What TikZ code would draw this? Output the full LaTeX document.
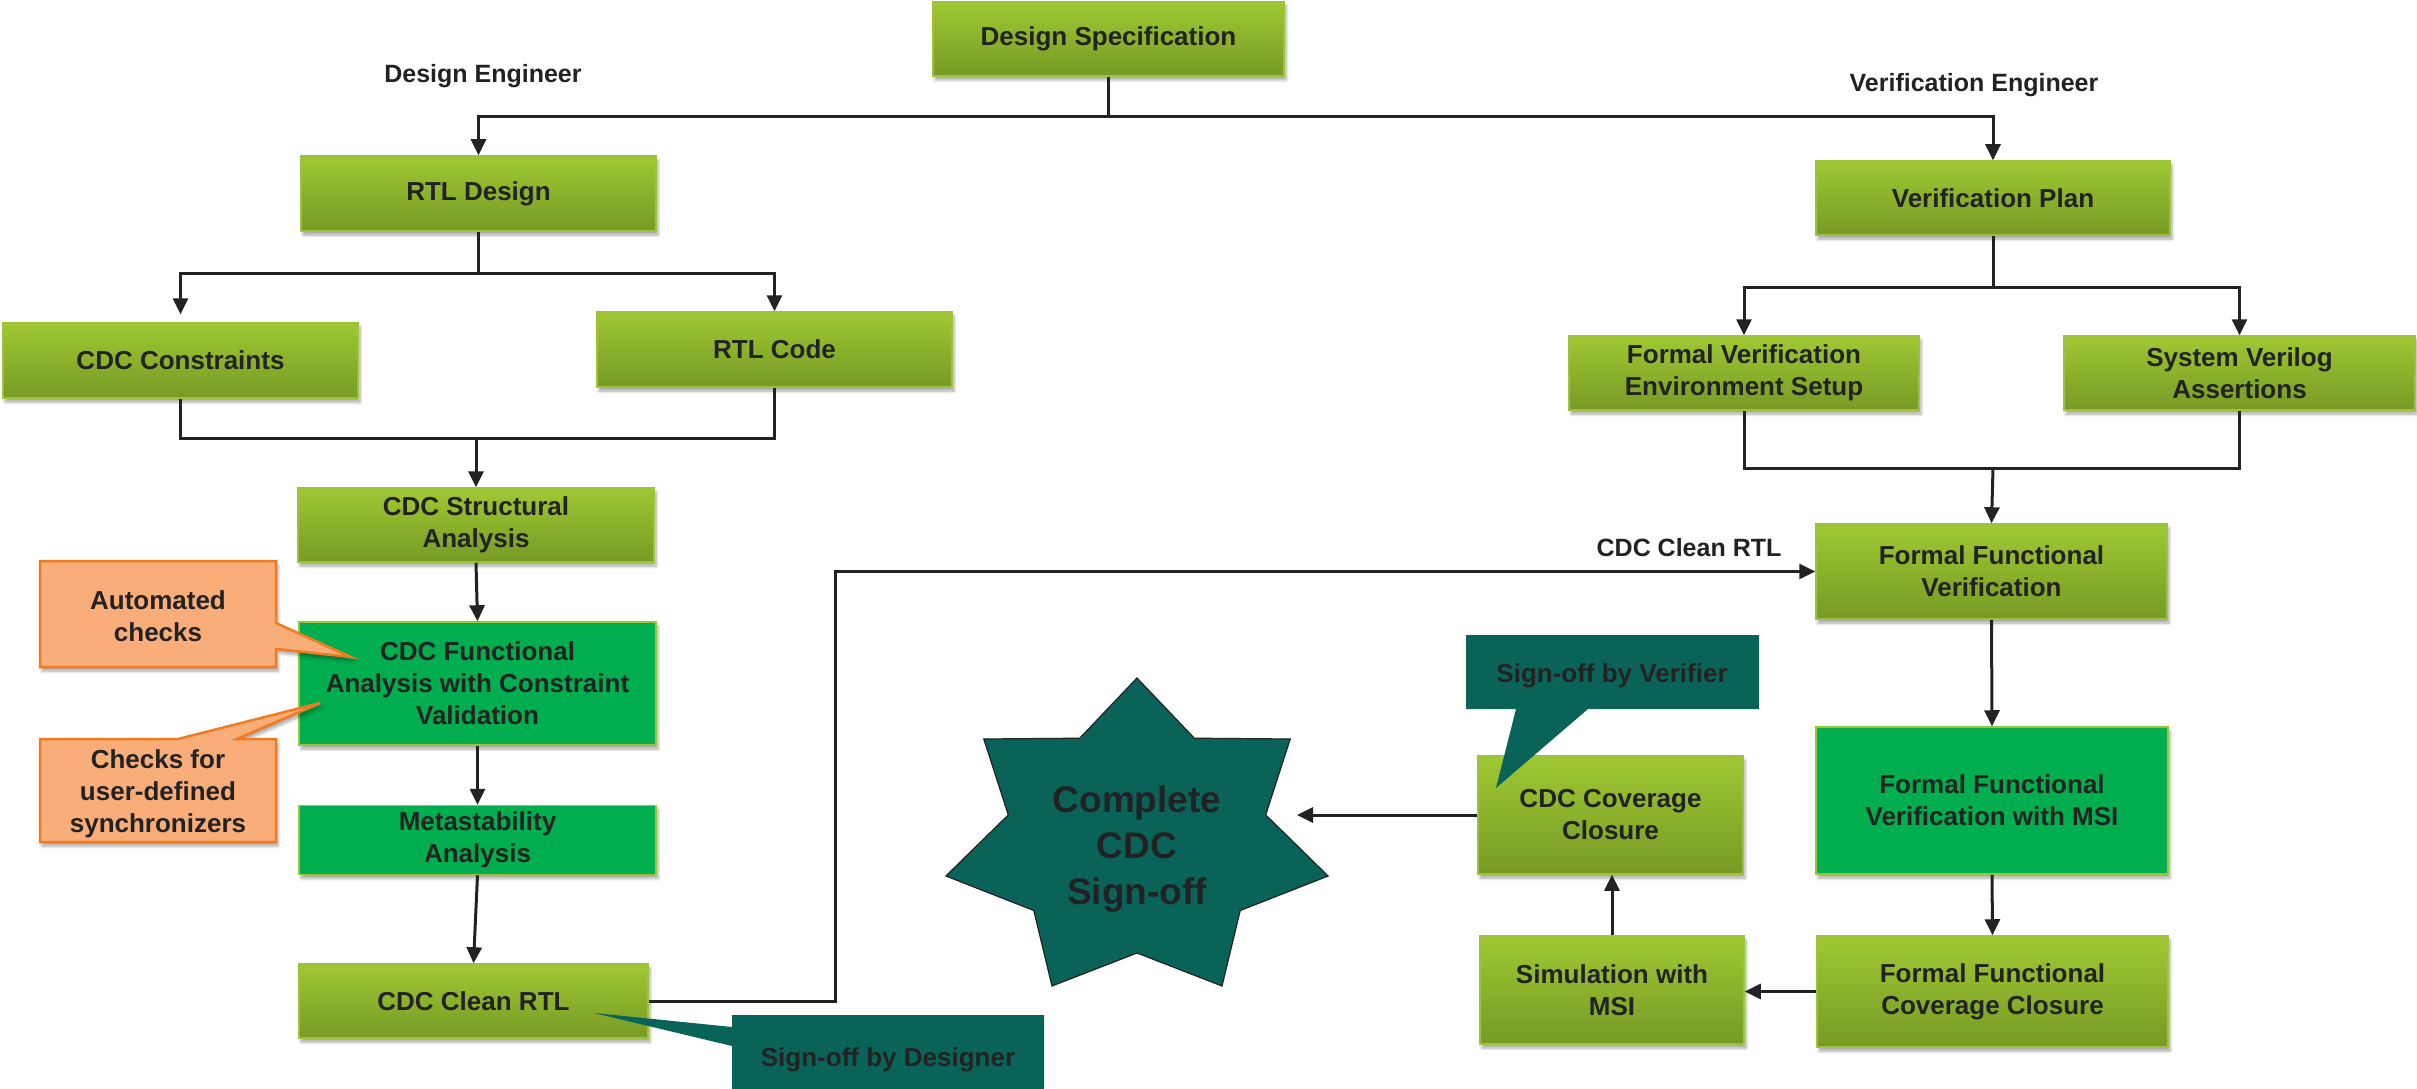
\documentclass[tikz,border=0pt]{standalone}
\usepackage{fontspec}
\setmainfont{Liberation Sans}
\usetikzlibrary{arrows.meta,shadows.blur}
\definecolor{gtop}{HTML}{A0C833}
\definecolor{gbot}{HTML}{779A25}
\definecolor{gborder}{HTML}{9CC43A}
\definecolor{bright}{HTML}{00AE4F}
\definecolor{tealc}{HTML}{0A6358}
\definecolor{ofill}{HTML}{F9AD78}
\definecolor{oborder}{HTML}{F47A20}
\definecolor{ink}{HTML}{222222}
\begin{document}
\begin{tikzpicture}[x=1pt,y=-1pt,
  every node/.style={font=\fontsize{26}{32}\selectfont\bfseries, text=ink, align=center, inner sep=3pt},
  shad/.style={blur shadow={shadow xshift=2pt, shadow yshift=-4pt, shadow blur steps=6, shadow opacity=35, shadow blur radius=3pt}},
  wh/.style 2 args={minimum width=#1pt, minimum height=#2pt},
  gbox/.style={shad, draw=gborder, line width=1.5pt, top color=gtop, bottom color=gbot},
  bbox/.style={shad, draw=gborder, line width=1.5pt, fill=bright},
  conn/.style={draw=ink, line width=3pt},
  arr/.style={conn, -{Triangle[length=16pt,width=15pt]}},
  ocall/.style={shad, draw=oborder, line width=2.5pt, fill=ofill, line join=miter},
  tcall/.style={fill=tealc, draw=none},
  lbl/.style={font=\fontsize{25}{30}\selectfont\bfseries}
]
\useasboundingbox (0,0) rectangle (2417,1089);

% ---- connectors (behind boxes)
\coordinate (j1) at (1108.5,117);
\coordinate (j2) at (478.5,273);
\coordinate (j3) at (476,438);
\coordinate (j4) at (1993,287);
\coordinate (j5) at (1993,468);
\coordinate (starE) at (1297,819);

% ---- boxes
\node[gbox, wh={351}{74}] (spec) at (1108.5,39) {Design Specification};
\node[gbox, wh={355}{75}] (rtld) at (478.5,193.5) {RTL Design};
\node[gbox, wh={355}{75}] (cons) at (180.5,360.5) {CDC Constraints};
\node[gbox, wh={355}{75}] (code) at (774.5,349.5) {RTL Code};
\node[gbox, wh={356}{74}] (struct) at (476,525) {CDC Structural\\Analysis};
\node[bbox, wh={357}{123}] (func) at (477.5,683.5) {CDC Functional\\Analysis with Constraint\\Validation};
\node[bbox, wh={357}{69}] (meta) at (477.5,840) {Metastability\\Analysis};
\node[gbox, wh={349}{74}] (clean) at (473.5,1001) {CDC Clean RTL};

\node[gbox, wh={354}{74}] (vp) at (1993,198) {Verification Plan};
\node[gbox, wh={350}{74}] (fves) at (1744,373) {Formal Verification\\Environment Setup};
\node[gbox, wh={351}{74}] (sva) at (2239.5,373) {System Verilog\\Assertions};
\node[gbox, wh={351}{95}] (ffv) at (1991.5,571.5) {Formal Functional\\Verification};
\node[bbox, wh={352}{147}] (ffvmsi) at (1992,800.5) {Formal Functional\\Verification with MSI};
\node[gbox, wh={351}{111}] (ffcc) at (1992.5,991.5) {Formal Functional\\Coverage Closure};
\node[gbox, wh={264}{108}] (sim) at (1612,990) {Simulation with\\MSI};
\node[gbox, wh={265}{118}] (cdccc) at (1610.5,815) {CDC Coverage\\Closure};

% ---- labels
\node[lbl] (de) at (483,76) {Design Engineer};
\node[lbl] (ve) at (1974,85) {Verification Engineer};
\node[lbl] (lblclean) at (1689,548) {CDC Clean RTL};

% ---- connectors
\draw[conn] (spec.south) -- (j1);
\draw[arr] (j1) -| (rtld.north);
\draw[arr] (j1) -| (vp.north);
\draw[conn] (rtld.south) -- (j2);
\draw[arr] (j2) -| ([yshift=8pt]cons.north);
\draw[arr] (j2) -| (code.north);
\draw[conn] (cons.south) |- (j3) -| (code.south);
\draw[arr] (j3) -- (struct.north);
\draw[arr] (struct.south) -- (func.north);
\draw[arr] (func.south) -- (meta.north);
\draw[arr] (meta.south) -- (clean.north);
\draw[arr] (clean.east) -- ++(187,0) |- (ffv.west);

\draw[conn] (vp.south) -- (j4);
\draw[arr] (j4) -| (fves.north);
\draw[arr] (j4) -| (sva.north);
\draw[conn] (fves.south) |- (j5) -| (sva.south);
\draw[arr] (j5) -- (ffv.north);
\draw[arr] (ffv.south) -- (ffvmsi.north);
\draw[arr] (ffvmsi.south) -- (ffcc.north);
\draw[arr] (ffcc.west) -- (sim.east |- ffcc.west);
\draw[arr] (sim.north) -- (sim.north |- cdccc.south);
\draw[arr] (cdccc.west) -- (starE |- cdccc.west);

% ---- star
\path[draw=ink, line width=1.2pt, fill=tealc, line join=miter]
  (1137,678) -- (1079.7,738.2) -- (983.8,739) -- (1008.3,814.9) -- (945.9,876)
  -- (1033.8,910.5) -- (1052,986) -- (1137,953) -- (1222,986) -- (1240.2,910.5)
  -- (1328.1,876) -- (1265.7,814.9) -- (1290.2,739) -- (1194.3,738.2) -- cycle;
\node[font=\fontsize{37}{46}\selectfont\bfseries] (star) at (1137,849) {Complete\\CDC\\Sign-off};

% ---- callouts
\path[ocall] (40,561) -- (276,561) -- (276,623) -- (351,657) -- (276,649) -- (276,667) -- (40,667) -- cycle;
\node (auto) at (158,616) {Automated\\checks};
\path[ocall] (40,739) -- (178,739) -- (320,703) -- (237,739) -- (276,739) -- (276,842) -- (40,842) -- cycle;
\node (chk) at (158,794) {Checks for\\user-defined\\synchronizers};

\path[tcall] (732,1015) -- (1044,1015) -- (1044,1089) -- (732,1089) -- (732,1046) -- (594,1013) -- (732,1027) -- cycle;
\node (sgd) at (888,1060) {Sign-off by Designer};
\path[tcall] (1466,635) -- (1759,635) -- (1759,709) -- (1588,709) -- (1496,788) -- (1516,709) -- (1466,709) -- cycle;
\node (sgv) at (1612,676) {Sign-off by Verifier};
\end{tikzpicture}
\end{document}
